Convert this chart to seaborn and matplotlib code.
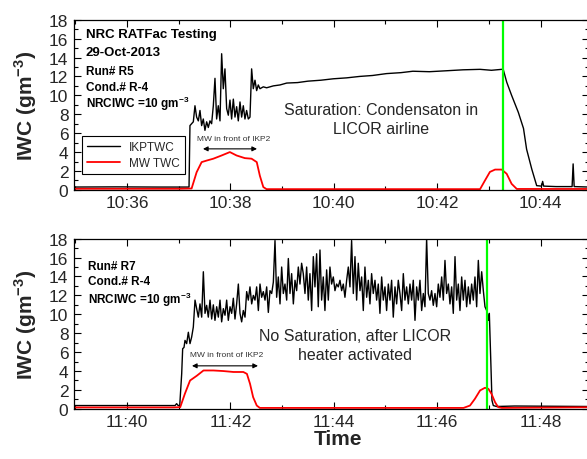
import pandas as pd
import matplotlib
matplotlib.use("Agg")
import matplotlib.pyplot as plt
import matplotlib.dates as mdates
from matplotlib.ticker import MultipleLocator
import seaborn as sns

# times are minutes after the full hour (R5: 10:xx, R7: 11:xx)
r5_ikp_min = [34.90, 35.80, 36.60, 37.200, 37.218, 37.250, 37.283, 37.315, 37.347, 37.380,
              37.412, 37.444, 37.476, 37.508, 37.541, 37.573, 37.605, 37.637, 37.670, 37.702,
              37.734, 37.766, 37.799, 37.831, 37.863, 37.895, 37.928, 37.960, 37.992, 38.024,
              38.057, 38.089, 38.121, 38.153, 38.186, 38.218, 38.250, 38.282, 38.314, 38.347,
              38.379, 38.411, 38.443, 38.476, 38.508, 38.540, 38.572, 38.637, 38.701, 38.766,
              38.830, 38.960, 39.090, 39.30, 39.50, 39.75, 39.99, 40.25, 40.50, 40.75,
              41.02, 41.30, 41.53, 41.85, 42.18, 42.50, 42.83, 43.05, 43.25, 43.28,
              43.345, 43.44, 43.57, 43.67, 43.73, 43.83, 43.925, 44.02, 44.04, 44.06,
              44.30, 44.61, 44.63, 44.65, 44.95]
r5_ikp_val = [0.30, 0.32, 0.30, 0.30, 6.8, 7.0, 7.2, 8.9, 7.7, 7.3,
              8.4, 6.8, 7.5, 6.3, 7.2, 6.6, 7.3, 7.0, 8.9, 11.8,
              7.5, 8.9, 7.3, 14.4, 10.7, 12.8, 8.6, 7.9, 9.5, 7.5,
              9.6, 7.7, 8.8, 7.3, 9.3, 7.7, 8.9, 7.5, 8.4, 7.5,
              7.7, 12.8, 10.7, 11.6, 10.5, 11.1, 10.7, 10.9, 10.8, 10.9,
              11.0, 11.1, 11.3, 11.35, 11.5, 11.6, 11.75, 11.85, 12.0, 12.1,
              12.3, 12.4, 12.55, 12.5, 12.6, 12.7, 12.75, 12.65, 12.75, 12.7,
              11.4, 10.0, 8.2, 6.5, 4.3, 2.2, 0.45, 0.40, 0.9, 0.40,
              0.35, 0.35, 2.75, 0.35, 0.30]

r5_mw_min = [34.90, 37.00, 37.25, 37.347, 37.444, 37.54, 37.67, 37.83, 37.99, 38.12,
             38.28, 38.41, 38.51, 38.57, 38.637, 38.70, 42.83, 42.925, 43.02, 43.12,
             43.25, 43.345, 43.44, 43.54, 44.95]
r5_mw_val = [0.12, 0.12, 0.15, 1.87, 2.94, 3.1, 3.3, 3.64, 4.0, 3.64,
             3.36, 3.3, 2.94, 1.5, 0.3, 0.08, 0.08, 1.0, 1.9, 2.15,
             2.15, 1.7, 0.64, 0.1, 0.1]

r7_ikp_min = [38.90, 40.00, 40.93, 40.96, 40.99, 41.02, 41.058, 41.077, 41.103, 41.122,
              41.154, 41.187, 41.219, 41.251, 41.283, 41.316, 41.348, 41.380, 41.412, 41.445,
              41.477, 41.509, 41.541, 41.573, 41.606, 41.638, 41.670, 41.702, 41.735, 41.767,
              41.799, 41.831, 41.864, 41.896, 41.928, 41.960, 41.993, 42.025, 42.057, 42.089,
              42.121, 42.154, 42.186, 42.218, 42.250, 42.283, 42.315, 42.347, 42.379, 42.412,
              42.444, 42.476, 42.508, 42.541, 42.573, 42.605, 42.637, 42.670, 42.702, 42.734,
              42.766, 42.799, 42.831, 42.863, 42.895, 42.927, 42.960, 42.992, 43.024, 43.056,
              43.089, 43.121, 43.153, 43.185, 43.218, 43.250, 43.282, 43.314,
              43.346, 43.378, 43.410, 43.443, 43.475, 43.507, 43.539, 43.572, 43.604, 43.636,
              43.668, 43.700, 43.733, 43.765, 43.797, 43.829, 43.862, 43.894, 43.926, 43.958,
              43.991, 44.023, 44.055, 44.087, 44.120, 44.152, 44.184, 44.216, 44.249, 44.281,
              44.313, 44.345, 44.378, 44.410, 44.442, 44.474, 44.507, 44.539, 44.571, 44.603,
              44.636, 44.668, 44.700, 44.732, 44.764, 44.797, 44.829, 44.861, 44.893, 44.926,
              44.958, 44.990, 45.022, 45.055, 45.087, 45.119, 45.151, 45.184, 45.216, 45.248,
              45.280, 45.313, 45.345, 45.377, 45.409, 45.442, 45.474, 45.506, 45.538, 45.571,
              45.603, 45.635, 45.667, 45.700, 45.732, 45.764, 45.796, 45.828,
              45.861, 45.893, 45.925, 45.958, 45.990, 46.022, 46.054, 46.087, 46.119, 46.151,
              46.183, 46.216, 46.248, 46.280, 46.312, 46.345, 46.377, 46.409, 46.441, 46.474,
              46.506, 46.538, 46.570, 46.603, 46.635, 46.667, 46.699, 46.731, 46.764, 46.796,
              46.828, 46.861, 46.893, 46.925, 46.957, 46.990, 47.009, 47.022, 47.041, 47.060,
              47.086, 47.150, 47.50, 48.00, 48.95]
r7_ikp_val = [0.35, 0.35, 0.35, 0.55, 0.35, 0.35, 3.7, 6.36, 6.5, 7.24,
              6.9, 8.1, 6.9, 7.6, 8.65, 11.5, 10.6, 9.7, 11.1, 9.7,
              14.5, 10.1, 10.95, 9.7, 11.5, 9.5, 11.0, 9.36, 10.8, 9.7,
              11.5, 9.2, 10.6, 9.9, 11.5, 9.36, 10.8, 10.1, 11.7, 9.5,
              11.1, 13.2, 10.1, 9.2, 10.4, 9.7, 12.4, 11.5, 12.9, 11.1,
              12.0, 11.5, 12.9, 10.4, 13.2, 11.8, 12.4, 11.5, 12.9, 10.2,
              12.5, 12.2, 13.4, 17.8, 11.8, 13.95, 11.1, 15.0, 12.2, 13.2,
              11.5, 15.9, 12.2, 14.3, 11.1, 13.6, 12.5, 15.0,
              13.2, 15.4, 14.3, 12.2, 15.0, 11.5, 14.3, 10.4, 16.1, 12.9,
              16.4, 10.8, 16.8, 11.5, 13.95, 10.4, 14.7, 11.5, 15.0, 13.2,
              13.95, 12.5, 13.2, 12.9, 13.6, 12.5, 13.2, 11.8, 13.6, 15.0,
              12.9, 17.8, 12.2, 16.1, 11.5, 15.4, 12.5, 13.95, 10.4, 15.0,
              11.8, 13.6, 11.1, 14.3, 12.2, 13.6, 11.5, 13.2, 10.1, 13.95,
              11.5, 12.9, 10.4, 13.2, 11.5, 13.6, 9.7, 12.9, 11.1, 13.6,
              12.2, 10.4, 14.3, 11.5, 12.9, 11.1, 13.2, 11.5, 13.6, 9.36,
              12.9, 11.5, 13.6, 10.4, 12.2, 10.8, 18.0, 12.2,
              11.5, 12.5, 10.95, 12.2, 10.8, 13.2, 11.8, 13.95, 11.5, 15.7,
              12.2, 13.2, 11.1, 12.9, 10.1, 16.1, 11.5, 13.2, 10.4, 13.95,
              11.5, 13.6, 10.8, 12.9, 11.1, 13.2, 11.5, 13.95, 10.8, 15.7,
              12.2, 14.5, 12.5, 10.8, 10.4, 9.36, 10.1, 7.9, 4.4, 0.9,
              0.35, 0.25, 0.30, 0.28, 0.25]

r7_mw_min = [38.90, 40.90, 41.03, 41.12, 41.22, 41.35, 41.48, 41.67, 41.86, 42.06,
             42.25, 42.32, 42.38, 42.44, 42.51, 42.57, 46.51, 46.635, 46.73, 46.83,
             46.925, 46.99, 47.05, 47.12, 47.18, 47.25, 48.95]
r7_mw_val = [0.15, 0.15, 0.18, 1.6, 3.0, 3.5, 4.06, 4.06, 4.0, 3.9,
             3.9, 3.7, 2.65, 1.24, 0.35, 0.1, 0.1, 0.35, 1.06, 1.95,
             2.23, 2.12, 1.6, 0.7, 0.18, 0.1, 0.17]

r5_hour = "2013-10-29 10:00"
r7_hour = "2013-10-29 11:00"
r5_green_min = 43.267
r7_green_min = 46.957
r5_xlim_min = (34.975, 44.937)
r7_xlim_min = (38.975, 48.937)
r5_arrow_min = (37.47, 38.515)
r7_arrow_min = (41.257, 42.534)


def to_time(hour, minutes):
    return pd.Timestamp(hour) + pd.to_timedelta(pd.Series(minutes), unit="min")


def one_time(hour, minutes):
    return mdates.date2num(pd.Timestamp(hour) + pd.Timedelta(minutes=minutes))


sns.set_theme(style="ticks")
plt.rcParams["font.family"] = ["Liberation Sans", "DejaVu Sans"]
plt.rcParams["mathtext.fontset"] = "custom"
plt.rcParams["mathtext.rm"] = "Liberation Sans"
plt.rcParams["mathtext.bf"] = "Liberation Sans:bold"

fig = plt.figure(figsize=(5.87, 4.60), dpi=100)
ax_top = fig.add_axes([74 / 587, 0.585, 515 / 587, 0.370])
ax_bot = fig.add_axes([74 / 587, 0.109, 515 / 587, 0.370])

panels = [
    (ax_top, r5_hour, r5_ikp_min, r5_ikp_val, r5_mw_min, r5_mw_val, r5_green_min, r5_xlim_min),
    (ax_bot, r7_hour, r7_ikp_min, r7_ikp_val, r7_mw_min, r7_mw_val, r7_green_min, r7_xlim_min),
]

for ax, hour, ikp_t, ikp_v, mw_t, mw_v, green_t, xlim in panels:
    ikp = pd.DataFrame({"time": to_time(hour, ikp_t), "iwc": ikp_v})
    mw = pd.DataFrame({"time": to_time(hour, mw_t), "iwc": mw_v})
    sns.lineplot(data=ikp, x="time", y="iwc", color="black", lw=1.0, ax=ax, label="IKPTWC")
    sns.lineplot(data=mw, x="time", y="iwc", color="#ff0000", lw=1.3, ax=ax, label="MW TWC")
    ax.axvline(one_time(hour, green_t), color="#00ff00", lw=1.6)

    ax.set_xlim(one_time(hour, xlim[0]), one_time(hour, xlim[1]))
    ax.set_ylim(0, 18)
    ax.xaxis.set_major_locator(mdates.MinuteLocator(byminute=range(0, 60, 2)))
    ax.xaxis.set_minor_locator(mdates.MinuteLocator())
    ax.xaxis.set_major_formatter(mdates.DateFormatter("%H:%M"))
    ax.yaxis.set_major_locator(MultipleLocator(2))
    ax.yaxis.set_minor_locator(MultipleLocator(1))
    ax.tick_params(which="both", direction="in", top=True, right=True,
                   labelsize=12.5, color="black", width=0.8)
    ax.tick_params(which="major", length=5, pad=4)
    ax.tick_params(which="minor", length=3)
    for sp in ax.spines.values():
        sp.set_color("black")
        sp.set_linewidth(0.9)
    ax.set_xlabel("")
    ax.set_ylabel("")

# legend only in the top panel
ax_bot.get_legend().remove()
ax_top.legend(loc="lower left", bbox_to_anchor=(0.0155, 0.094), borderaxespad=0,
              fontsize=8.5, frameon=True, fancybox=False, edgecolor="black",
              framealpha=1, handlelength=2.8, borderpad=0.4, labelspacing=0.35)
ax_top.get_legend().get_frame().set_linewidth(0.8)

# panel annotations
bold = dict(fontweight="bold", color="black", va="center", ha="left")
ax_top.text(0.023, 0.916, "NRC RATFac Testing", fontsize=9.5, transform=ax_top.transAxes, **bold)
ax_top.text(0.023, 0.810, "29-Oct-2013", fontsize=9.5, transform=ax_top.transAxes, **bold)
ax_top.text(0.023, 0.699, "Run# R5", fontsize=8.5, transform=ax_top.transAxes, **bold)
ax_top.text(0.023, 0.605, "Cond.# R-4", fontsize=8.5, transform=ax_top.transAxes, **bold)
ax_top.text(0.023, 0.511, r"NRCIWC =10 gm$^{\mathbf{-3}}$", fontsize=8.5,
            transform=ax_top.transAxes, **bold)
ax_bot.text(0.027, 0.841, "Run# R7", fontsize=8.5, transform=ax_bot.transAxes, **bold)
ax_bot.text(0.027, 0.753, "Cond.# R-4", fontsize=8.5, transform=ax_bot.transAxes, **bold)
ax_bot.text(0.027, 0.647, r"NRCIWC =10 gm$^{\mathbf{-3}}$", fontsize=8.5,
            transform=ax_bot.transAxes, **bold)

ax_top.text(0.596, 0.417, "Saturation: Condensaton in\nLICOR airline", fontsize=11.5,
            ha="center", va="center", linespacing=1.35, transform=ax_top.transAxes)
ax_bot.text(0.546, 0.376, "No Saturation, after LICOR\nheater activated", fontsize=11.5,
            ha="center", va="center", linespacing=1.35, transform=ax_bot.transAxes)

for ax, hour, arrow, ytxt, yarr, xtxt in [
    (ax_top, r5_hour, r5_arrow_min, 0.300, 4.34, 0.309),
    (ax_bot, r7_hour, r7_arrow_min, 0.318, 4.55, 0.297),
]:
    ax.text(xtxt, ytxt, "MW in front of IKP2", fontsize=6, color="#333333",
            ha="center", va="center", transform=ax.transAxes)
    ax.annotate("", xy=(one_time(hour, arrow[0]), yarr), xytext=(one_time(hour, arrow[1]), yarr),
                arrowprops=dict(arrowstyle="<|-|>", color="black", lw=0.8,
                                mutation_scale=7, shrinkA=0, shrinkB=0))

ylab = r"IWC (gm$^{\mathbf{-3}}$)"
fig.text(26 / 587, 1 - 106 / 460, ylab, rotation=90, fontsize=15, fontweight="bold",
         ha="center", va="center")
fig.text(26 / 587, 1 - 325 / 460, ylab, rotation=90, fontsize=15, fontweight="bold",
         ha="center", va="center")
fig.text(338 / 587, 1 - 440 / 460, "Time", fontsize=15, fontweight="bold",
         ha="center", va="center")

fig.savefig("out.png", dpi=100)
